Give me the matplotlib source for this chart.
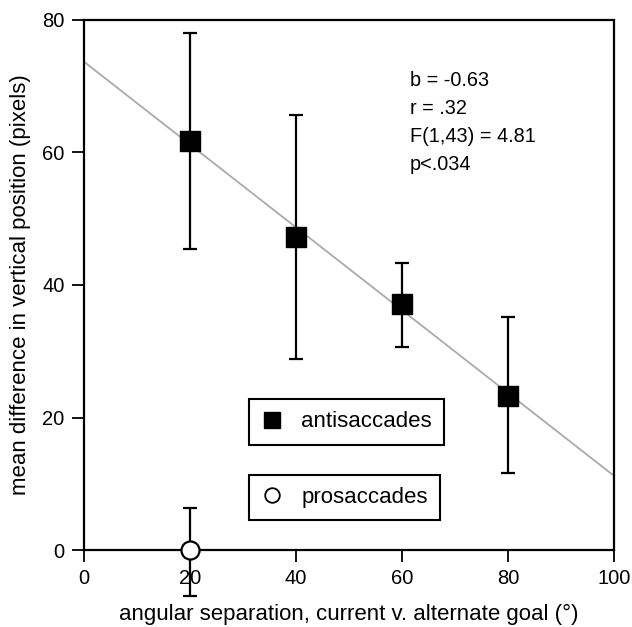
import matplotlib
matplotlib.use("Agg")
import matplotlib.pyplot as plt
from matplotlib.lines import Line2D
import numpy as np

plt.rcParams['font.family'] = ['Liberation Sans', 'DejaVu Sans']

# data
anti_x = [20, 40, 60, 80]
anti_y = [61.7, 47.2, 37.2, 23.3]
anti_hi = [78.1, 65.6, 43.3, 35.1]
anti_lo = [45.5, 28.9, 30.7, 11.6]
pro_x = [20]
pro_y = [0.0]
pro_hi = [6.4]
pro_lo = [-7.0]
fit_intercept = 73.7
fit_slope = -0.625
stats_lines = ["b = -0.63", "r = .32", "F(1,43) = 4.81", "p<.034"]
xticks = [0, 20, 40, 60, 80, 100]
yticks = [0, 20, 40, 60, 80]

fig = plt.figure(figsize=(6.32, 6.27), dpi=100)
ax = fig.add_axes([84/632, 1-550/627, 530/632, 530/627])

# regression line
fx = np.array([0, 100])
ax.plot(fx, fit_intercept + fit_slope*fx, color='#aaaaaa', lw=1.3, zorder=1)

ay = np.array(anti_y)
ax.errorbar(anti_x, anti_y, yerr=[ay-np.array(anti_lo), np.array(anti_hi)-ay],
            fmt='s', color='black', ms=15, ecolor='black', elinewidth=1.6,
            capsize=5, capthick=1.6, zorder=3)
py = np.array(pro_y)
ax.errorbar(pro_x, pro_y, yerr=[py-np.array(pro_lo), np.array(pro_hi)-py],
            fmt='o', mfc='white', mec='black', mew=1.6, ms=13, ecolor='black',
            elinewidth=1.6, capsize=5, capthick=1.6, zorder=4, clip_on=False)

ax.set_xlim(0, 100)
ax.set_ylim(0, 80)
ax.set_xticks(xticks)
ax.set_yticks(yticks)
ax.tick_params(direction='out', length=8.5, width=1.3, labelsize=14.5, pad=5.5)
for s in ax.spines.values():
    s.set_linewidth(1.6)

ax.set_xlabel("angular separation, current v. alternate goal (°)", fontsize=16, labelpad=11)
ax.set_ylabel("mean difference in vertical position (pixels)", fontsize=16, labelpad=8)

for i, t in enumerate(stats_lines):
    ax.text((410-84)/530, (550-81-i*27.7)/530, t, transform=ax.transAxes,
            fontsize=14.3, va='center', ha='left')

h1 = Line2D([], [], marker='s', ls='none', color='black', ms=11.5)
h2 = Line2D([], [], marker='o', ls='none', mfc='white', mec='black', mew=1.3, ms=10.5)
common = dict(loc='center left', fontsize=16, fancybox=False, edgecolor='black',
              framealpha=1, handletextpad=0.8, handlelength=1.0,
              borderpad=0.55, borderaxespad=0)
leg1 = ax.legend([h1], ["antisaccades"],
                 bbox_to_anchor=((249-84)/530, (550-422)/530), **common)
leg1.get_frame().set_linewidth(1.5)
ax.add_artist(leg1)
leg2 = ax.legend([h2], ["prosaccades"],
                 bbox_to_anchor=((249-84)/530, (550-497.5)/530), **common)
leg2.get_frame().set_linewidth(1.5)

fig.savefig("out.png", dpi=100)
